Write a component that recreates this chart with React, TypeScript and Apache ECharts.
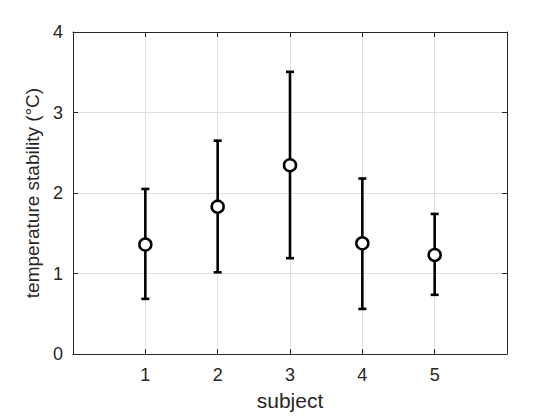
import React, { useEffect, useRef } from "react";
import * as echarts from "echarts";

const subjects = [1, 2, 3, 4, 5];
const means = [1.36, 1.83, 2.345, 1.375, 1.23];
const lowerBounds = [0.685, 1.015, 1.19, 0.56, 0.735];
const upperBounds = [2.05, 2.65, 3.505, 2.18, 1.74];
const xTickLabels = ["1", "2", "3", "4", "5"];

const FONT = "'Liberation Sans', Arial, Helvetica, sans-serif";
const TEXT = "#262626";
const GRID = "#dfdfdf";

export default function App() {
  const ref = useRef<HTMLDivElement>(null);
  useEffect(() => {
    if (!ref.current) return;
    const chart = echarts.init(ref.current, undefined, { renderer: "svg" });
    const errData = subjects.map((s, i) => [s, lowerBounds[i], upperBounds[i]]);
    const ptData = subjects.map((s, i) => [s, means[i]]);
    const commonX = {
      type: "value" as const,
      min: 0,
      max: 6,
      interval: 1,
    };
    const commonY = {
      type: "value" as const,
      min: 0,
      max: 4,
      interval: 1,
    };
    chart.setOption({
      animation: false,
      backgroundColor: "#ffffff",
      grid: { left: 73, right: 53, top: 32, bottom: 66, containLabel: false },
      xAxis: [
        {
          ...commonX,
          position: "bottom",
          name: "subject",
          nameLocation: "middle",
          nameGap: 36,
          nameTextStyle: { color: TEXT, fontFamily: FONT, fontSize: 21 },
          axisLine: { show: true, onZero: false, lineStyle: { color: TEXT, width: 1 } },
          axisTick: { show: true, inside: true, length: 5, lineStyle: { color: TEXT } },
          axisLabel: {
            color: TEXT,
            fontFamily: FONT,
            fontSize: 18,
            margin: 12,
            formatter: (v: number) => {
              const idx = subjects.indexOf(v);
              return idx >= 0 ? xTickLabels[idx] : "";
            },
          },
          splitLine: { show: true, lineStyle: { color: GRID, width: 1 } },
        },
        {
          ...commonX,
          position: "top",
          axisLine: { show: true, onZero: false, lineStyle: { color: TEXT, width: 1 } },
          axisTick: { show: true, inside: true, length: 5, lineStyle: { color: TEXT } },
          axisLabel: { show: false },
          splitLine: { show: false },
        },
      ],
      yAxis: [
        {
          ...commonY,
          position: "left",
          name: "temperature stability (°C)",
          nameLocation: "middle",
          nameGap: 25,
          nameTextStyle: { color: TEXT, fontFamily: FONT, fontSize: 19 },
          axisLine: { show: true, onZero: false, lineStyle: { color: TEXT, width: 1 } },
          axisTick: { show: true, inside: true, length: 5, lineStyle: { color: TEXT } },
          axisLabel: { color: TEXT, fontFamily: FONT, fontSize: 18, margin: 10 },
          splitLine: { show: true, lineStyle: { color: GRID, width: 1 } },
        },
        {
          ...commonY,
          position: "right",
          axisLine: { show: true, onZero: false, lineStyle: { color: TEXT, width: 1 } },
          axisTick: { show: true, inside: true, length: 5, lineStyle: { color: TEXT } },
          axisLabel: { show: false },
          splitLine: { show: false },
        },
      ],
      series: [
        {
          type: "custom",
          xAxisIndex: 0,
          yAxisIndex: 0,
          data: errData,
          encode: { x: 0, y: [1, 2] },
          renderItem: (params: any, api: any) => {
            const x = api.value(0);
            const lo = api.coord([x, api.value(1)]);
            const hi = api.coord([x, api.value(2)]);
            const cap = 4;
            const style = { stroke: "#000000", lineWidth: 2.6, fill: "none" };
            return {
              type: "group",
              children: [
                { type: "line", shape: { x1: lo[0], y1: lo[1], x2: hi[0], y2: hi[1] }, style },
                { type: "line", shape: { x1: lo[0] - cap, y1: lo[1], x2: lo[0] + cap, y2: lo[1] }, style },
                { type: "line", shape: { x1: hi[0] - cap, y1: hi[1], x2: hi[0] + cap, y2: hi[1] }, style },
              ],
            };
          },
          z: 2,
        },
        {
          type: "scatter",
          xAxisIndex: 0,
          yAxisIndex: 0,
          data: ptData,
          symbol: "circle",
          symbolSize: 12,
          itemStyle: { color: "#ffffff", borderColor: "#000000", borderWidth: 2.5, opacity: 1 },
          emphasis: { disabled: true },
          z: 3,
        },
      ],
    });
    return () => chart.dispose();
  }, []);
  return <div ref={ref} style={{ width: 560, height: 420, margin: -8 }} />;
}
